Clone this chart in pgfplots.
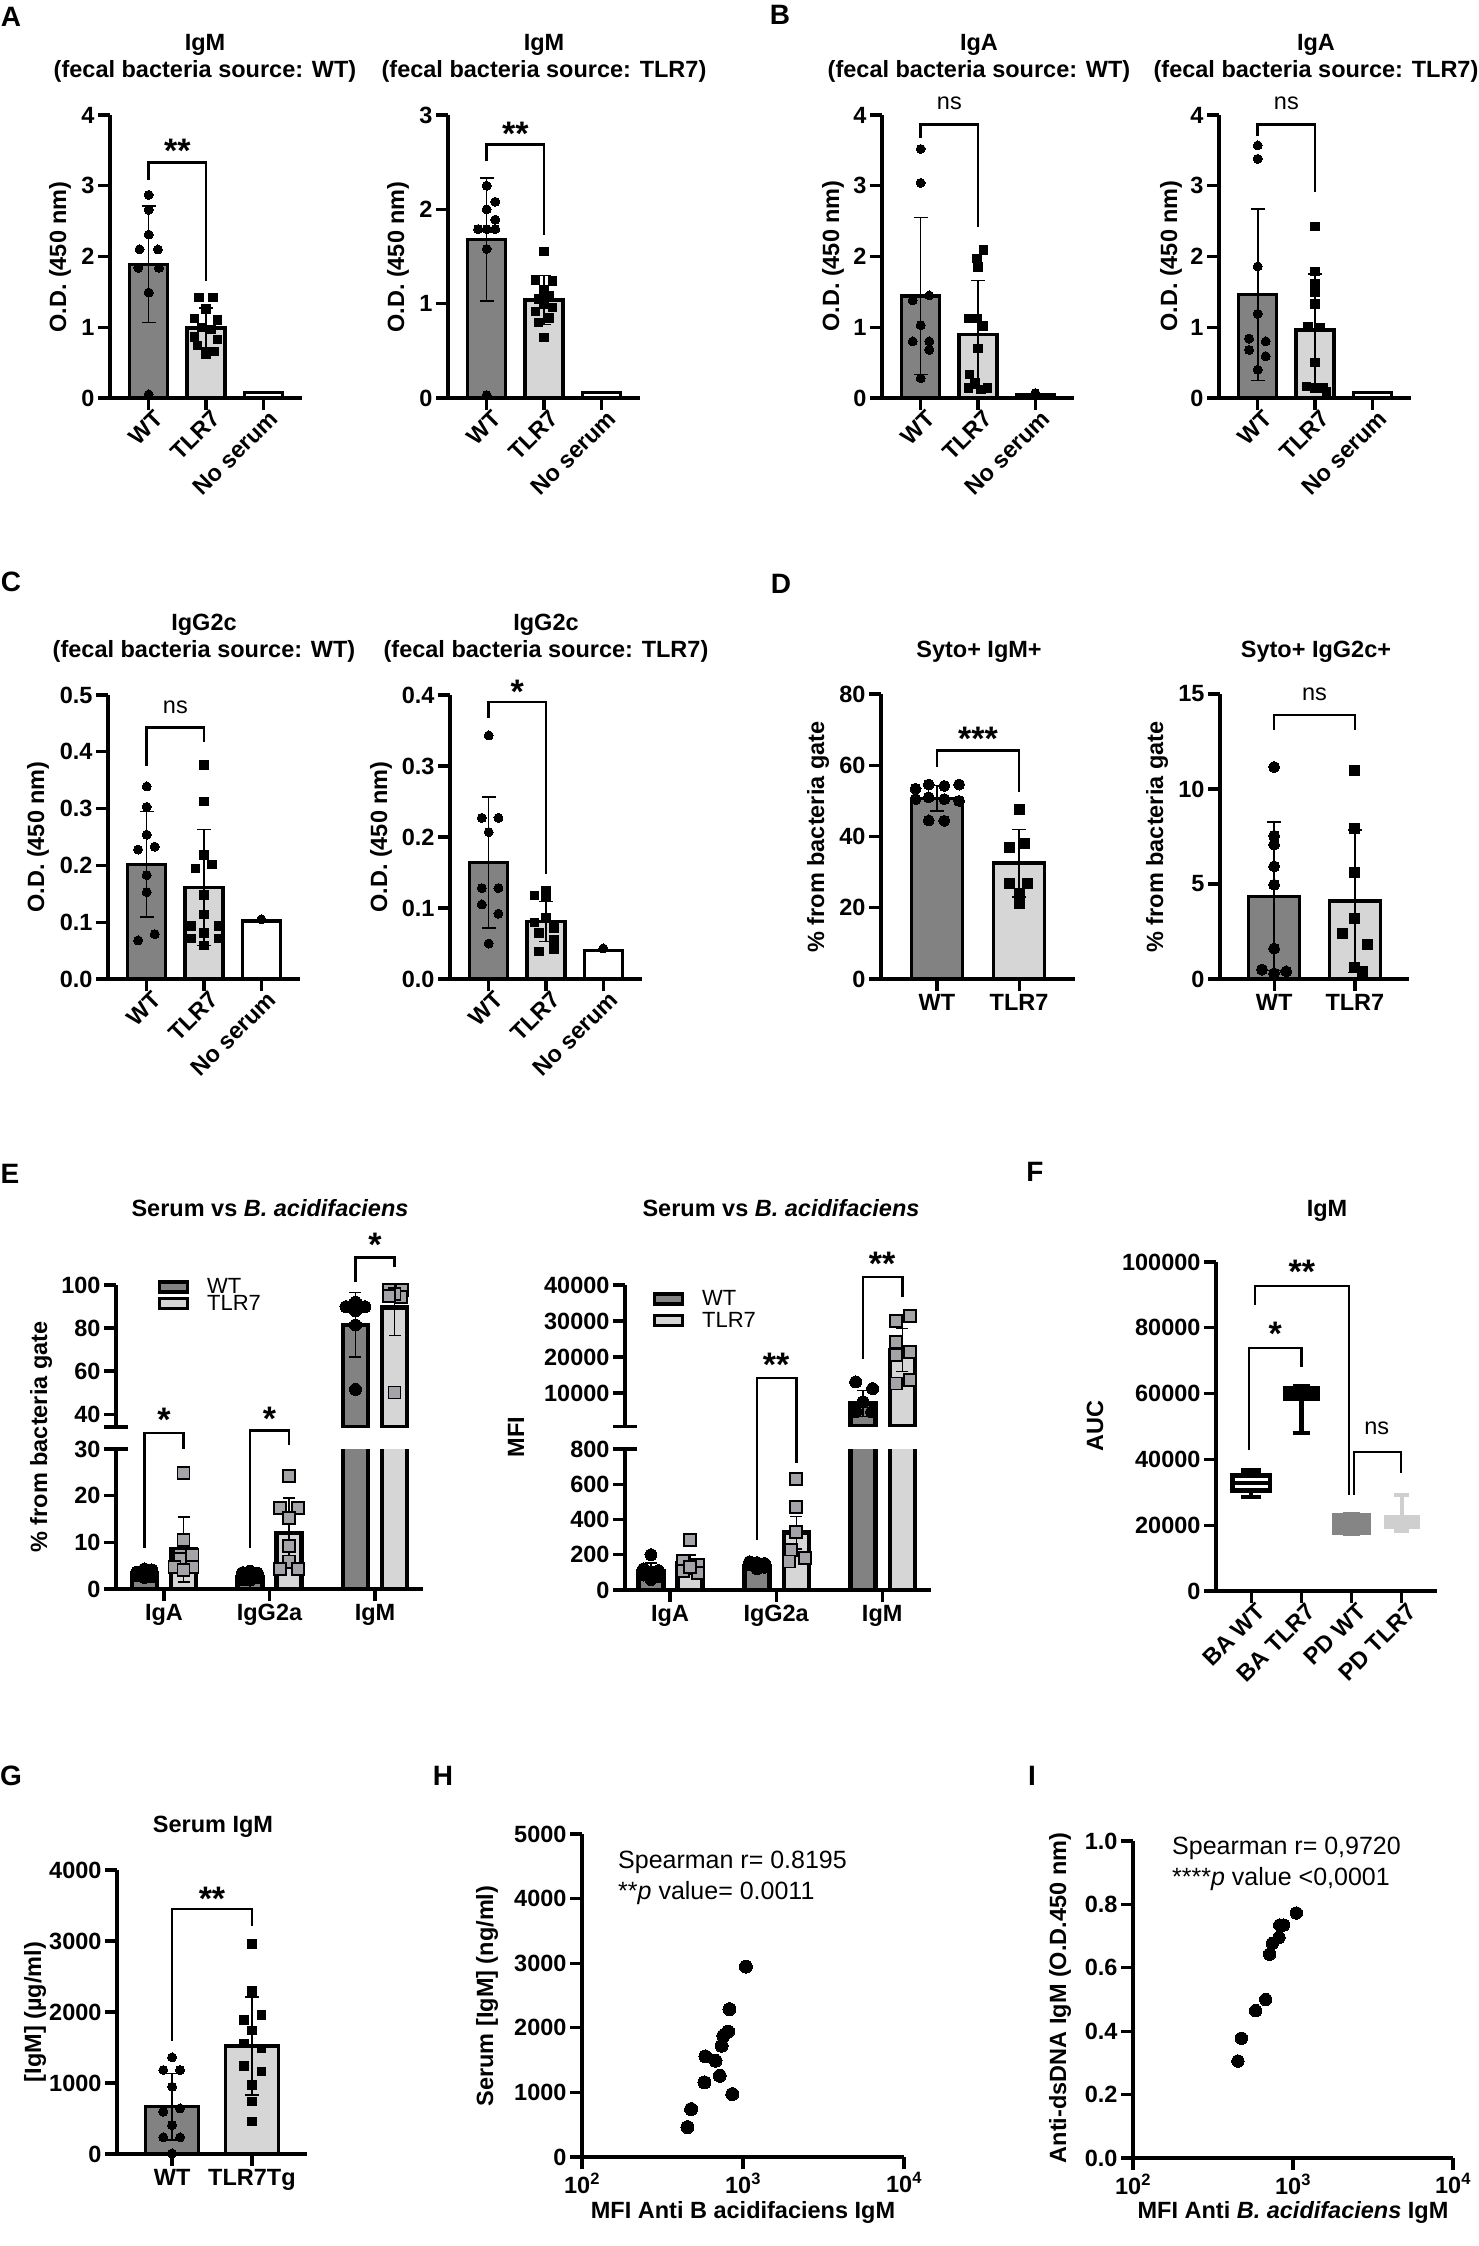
\documentclass[border=0pt]{standalone}
\usepackage{fontspec}
\setmainfont{Liberation Sans}
\usepackage{pgfplots}
\pgfplotsset{compat=1.18}
\usepgfplotslibrary{statistics}
\definecolor{dg}{HTML}{828282}
\definecolor{lg}{HTML}{D6D6D6}
\definecolor{sqg}{HTML}{A4A4A8}
\definecolor{pdw}{HTML}{858585}
\definecolor{pdt}{HTML}{CFCFCF}
\newcommand{\tf}{\fontsize{23.5}{27}\selectfont\bfseries}
\newcommand{\nf}{\fontsize{23.5}{27}\selectfont}
\newcommand{\starf}{\fontsize{34}{34}\selectfont\bfseries}
\newcommand{\plab}{\fontsize{28}{30}\selectfont\bfseries}
\newcommand{\lgf}{\fontsize{22}{24}\selectfont}
\newcommand{\annf}{\fontsize{25}{29}\selectfont}
\pgfplotsset{
  gp/.style={
    scale only axis, anchor=south west, clip=false, enlargelimits=false,
    axis x line=bottom, axis y line=left,
    axis line style={line width=3.2pt,-},
    every outer x axis line/.append style={-}, every outer y axis line/.append style={-},
    every inner x axis line/.append style={-}, every inner y axis line/.append style={-},
    x axis line style={-}, y axis line style={-},
    tick style={line width=3.2pt, black},
    major tick length=12pt,
    tick align=outside,
    tick label style={font=\tf},
    scaled ticks=false,
    yticklabel style={/pgf/number format/.cd, fixed, 1000 sep={}, assume math mode=true},
  },
  ov/.style={scale only axis, anchor=south west, hide axis, clip=false, enlargelimits=false},
  rot/.style={xticklabel style={rotate=45, anchor=north east, inner sep=1pt, xshift=5pt, yshift=-1pt}},
  dot/.style={only marks, mark=*, mark size=#1, mark options={fill=black, draw=black, line width=0pt}},
  dot/.default=4.5pt,
  sqr/.style={only marks, mark=square*, mark size=#1, mark options={fill=black, draw=black, line width=0pt}},
  sqr/.default=4.2pt,
  esq/.style={only marks, mark=square*, mark size=6pt, mark options={fill=sqg, draw=black, line width=1.8pt}},
  leg/.style={legend cell align=left,
    legend image code/.code={\draw[##1] (0pt,-5pt) rectangle (28pt,5pt);}},
}
\newcommand{\gpbar}[4]{\addplot[ybar, bar width=#4, bar shift=0pt, fill=#3, draw=black, line width=3.5pt, forget plot] coordinates {(#1,#2)};}
\newcommand{\ebar}[3]{\addplot[ybar, bar width=25pt, bar shift=0pt, fill=#3, draw=black, line width=4.5pt, forget plot] coordinates {(#1,#2)};}
\newcommand{\gperr}[4][7pt]{\addplot[draw=none, forget plot, error bars/.cd, y dir=both, y explicit, error bar style={draw=black, line width=1.6pt}, error mark options={draw=black, rotate=90, mark size=#1, line width=1.6pt}] coordinates {(#2,#3) +- (0,#4)};}
\newcommand{\brk}[5]{\draw[line width=2.6pt, line join=miter] (axis cs:#1,#2) -- (axis cs:#1,#5) -- (axis cs:#3,#5) -- (axis cs:#3,#4);}
\newcommand{\stars}[3]{\node[font=\starf, inner sep=0pt, yshift=-7pt] at (axis cs:#1,#2) {#3};}
\newcommand{\nsl}[2]{\node[font=\nf, inner sep=0pt] at (axis cs:#1,#2) {ns};}
\begin{document}
\begin{tikzpicture}
\path[use as bounding box] (0pt,0pt) rectangle (1478pt,-2246pt);

% ================= A left
\begin{axis}[gp, rot, at={(110pt,-398pt)}, width=192pt, height=283pt, xmin=-0.675, xmax=2.675, ymin=0, ymax=4, ytick={0,1,2,3,4}, xtick={0,1,2}, xticklabels={WT,TLR7,No serum}]
\gpbar{0}{1.89}{dg}{38pt}
\gpbar{1}{0.99}{lg}{38pt}
\gpbar{2}{0.08}{white}{38pt}
\addplot[dot] coordinates {(0,2.87)(0,2.66)(0,2.31)(-0.16,2.10)(0.16,2.10)(-0.18,1.84)(0.18,1.84)(0,1.49)(0,0.05)};
\addplot[sqr] coordinates {(0.88,1.42)(1.12,1.42)(1,1.26)(0.8,1.12)(1.2,1.10)(0.92,1.00)(1.1,0.97)(0.8,0.86)(1.2,0.83)(0.85,0.74)(1.15,0.66)(1,0.62)};
\gperr{0}{1.89}{0.82}
\gperr{1}{0.99}{0.28}
\brk{0}{3.08}{1}{1.65}{3.33}
\stars{0.5}{3.59}{**}
\end{axis}

% ================= A right
\begin{axis}[gp, rot, at={(448pt,-398pt)}, width=192pt, height=283pt, xmin=-0.675, xmax=2.675, ymin=0, ymax=3, ytick={0,1,2,3}, xtick={0,1,2}, xticklabels={WT,TLR7,No serum}]
\gpbar{0}{1.68}{dg}{38pt}
\gpbar{1}{1.04}{lg}{38pt}
\gpbar{2}{0.06}{white}{38pt}
\addplot[dot] coordinates {(0,2.25)(0.15,2.08)(0,2.00)(0.15,1.89)(-0.15,1.79)(0,1.79)(0.15,1.79)(0,1.58)(0,0.03)};
\addplot[sqr] coordinates {(1,1.55)(0.85,1.25)(1.15,1.24)(1,1.15)(1.1,1.08)(0.9,1.05)(1,0.99)(1.15,0.96)(0.85,0.92)(1.1,0.85)(0.9,0.80)(1,0.64)};
\gperr{0}{1.68}{0.65}
\gperr{1}{1.04}{0.26}
\brk{0}{2.51}{1}{1.73}{2.69}
\stars{0.5}{2.88}{**}
\end{axis}

% ================= B left
\begin{axis}[gp, rot, at={(882pt,-398pt)}, width=192pt, height=283pt, xmin=-0.675, xmax=2.675, ymin=0, ymax=4, ytick={0,1,2,3,4}, xtick={0,1,2}, xticklabels={WT,TLR7,No serum}]
\gpbar{0}{1.44}{dg}{38pt}
\gpbar{1}{0.90}{lg}{38pt}
\gpbar{2}{0.04}{white}{38pt}
\addplot[dot] coordinates {(0,3.52)(0,3.04)(0.15,1.45)(-0.14,1.38)(0,1.03)(-0.14,0.80)(0.15,0.80)(0.15,0.68)(0,0.28)(2,0.07)};
\addplot[sqr] coordinates {(1.1,2.09)(0.98,1.97)(1.0,1.85)(0.83,1.12)(0.98,1.12)(1.1,1.02)(1.0,0.70)(0.85,0.33)(0.95,0.21)(0.83,0.14)(1.17,0.14)(1.05,0.12)};
\gperr{0}{1.44}{1.11}
\gperr{1}{0.90}{0.76}
\brk{0}{3.68}{1}{2.42}{3.87}
\nsl{0.5}{4.16}
\end{axis}

% ================= B right
\begin{axis}[gp, rot, at={(1219pt,-398pt)}, width=192pt, height=283pt, xmin=-0.675, xmax=2.675, ymin=0, ymax=4, ytick={0,1,2,3,4}, xtick={0,1,2}, xticklabels={WT,TLR7,No serum}]
\gpbar{0}{1.46}{dg}{38pt}
\gpbar{1}{0.96}{lg}{38pt}
\gpbar{2}{0.08}{white}{38pt}
\addplot[dot] coordinates {(0,3.57)(0,3.38)(0,1.86)(0,1.19)(-0.15,0.84)(0.14,0.80)(-0.15,0.68)(0.14,0.59)(0,0.40)};
\addplot[sqr] coordinates {(1,2.42)(1,1.79)(1,1.61)(1,1.50)(1,1.33)(0.88,1.01)(1.1,1.00)(1,0.50)(0.85,0.16)(1.0,0.14)(1.15,0.14)(1.2,0.09)};
\gperr{0}{1.46}{1.21}
\gperr{1}{0.96}{0.79}
\brk{0}{3.70}{1}{2.91}{3.87}
\nsl{0.5}{4.16}
\end{axis}

% ================= C left
\begin{axis}[gp, rot, at={(108pt,-979pt)}, width=192pt, height=284pt, xmin=-0.675, xmax=2.675, ymin=0, ymax=0.5, ytick={0,0.1,0.2,0.3,0.4,0.5}, yticklabel style={/pgf/number format/.cd, fixed zerofill, precision=1}, xtick={0,1,2}, xticklabels={WT,TLR7,No serum}]
\gpbar{0}{0.202}{dg}{38pt}
\gpbar{1}{0.161}{lg}{38pt}
\gpbar{2}{0.102}{white}{38pt}
\addplot[dot] coordinates {(0,0.339)(0,0.303)(0,0.254)(0.14,0.233)(-0.15,0.228)(0,0.183)(0,0.153)(0.14,0.079)(-0.15,0.068)(2,0.105)};
\addplot[sqr] coordinates {(1,0.377)(1,0.312)(1,0.218)(1.14,0.202)(0.85,0.195)(1,0.148)(1,0.114)(0.77,0.093)(1.25,0.093)(1,0.081)(0.77,0.071)(1.25,0.071)(1,0.059)};
\gperr{0}{0.202}{0.093}
\gperr{1}{0.161}{0.102}
\brk{0}{0.375}{1}{0.418}{0.443}
\nsl{0.5}{0.478}
\end{axis}

% ================= C right
\begin{axis}[gp, rot, at={(450pt,-979pt)}, width=192pt, height=284pt, xmin=-0.675, xmax=2.675, ymin=0, ymax=0.4, ytick={0,0.1,0.2,0.3,0.4}, yticklabel style={/pgf/number format/.cd, fixed zerofill, precision=1}, xtick={0,1,2}, xticklabels={WT,TLR7,No serum}]
\gpbar{0}{0.164}{dg}{38pt}
\gpbar{1}{0.081}{lg}{38pt}
\gpbar{2}{0.040}{white}{38pt}
\addplot[dot] coordinates {(0,0.343)(-0.12,0.227)(0.17,0.227)(0,0.207)(-0.12,0.128)(0.17,0.128)(-0.12,0.105)(0.17,0.092)(0,0.050)(2,0.043)};
\addplot[sqr] coordinates {(0.8,0.118)(1,0.124)(1,0.116)(1,0.087)(0.8,0.080)(1.14,0.072)(0.88,0.065)(1.14,0.056)(0.88,0.039)(1.14,0.042)};
\gperr{0}{0.164}{0.092}
\gperr{1}{0.081}{0.028}
\brk{0}{0.367}{1}{0.148}{0.390}
\stars{0.5}{0.415}{*}
\end{axis}

% ================= D left
\begin{axis}[gp, at={(881pt,-979pt)}, width=194pt, height=285pt, xmin=-0.68, xmax=1.68, ymin=0, ymax=80, ytick={0,20,40,60,80}, xtick={0,1}, xticklabels={WT,TLR7}]
\gpbar{0}{50.7}{dg}{51pt}
\gpbar{1}{32.5}{lg}{51pt}
\addplot[dot=5.5pt] coordinates {(-0.26,53.4)(-0.1,54.6)(0.09,54.2)(0.27,54.6)(-0.26,50.5)(-0.1,51.0)(0.09,50.5)(0.27,50.0)(-0.1,44.5)(0.09,44.4)};
\addplot[sqr=5pt] coordinates {(1,47.7)(1.07,38.1)(0.88,36.9)(0.88,26.9)(1.1,26.9)(1,23.9)(1,21.3)};
\gperr{0}{50.7}{3.6}
\gperr{1}{32.5}{9.5}
\brk{0}{59.5}{1}{52.4}{64.2}
\stars{0.5}{69.5}{***}
\end{axis}

% ================= D right
\begin{axis}[gp, at={(1220pt,-979pt)}, width=189pt, height=285pt, xmin=-0.67, xmax=1.67, ymin=0, ymax=15, ytick={0,5,10,15}, xtick={0,1}, xticklabels={WT,TLR7}]
\gpbar{0}{4.35}{dg}{51pt}
\gpbar{1}{4.1}{lg}{51pt}
\addplot[dot=5.5pt] coordinates {(0,11.16)(0,7.54)(0,7.07)(0,5.93)(0,4.96)(0,1.6)(-0.15,0.5)(0.15,0.4)(0,0.3)};
\addplot[sqr=5pt] coordinates {(1,11.0)(1,7.9)(1,5.6)(1,3.2)(0.85,2.4)(1.15,1.8)(1,0.6)(1.1,0.4)};
\gperr{0}{4.35}{3.9}
\gperr{1}{4.1}{3.75}
\brk{0}{13.1}{1}{13.1}{13.9}
\nsl{0.5}{15.0}
\end{axis}

% ================= E left lower
\begin{axis}[gp, at={(116pt,-1589pt)}, width=307pt, height=140pt, xmin=-0.455, xmax=2.455, ymin=0, ymax=30, ytick={0,10,20,30}, xtick={0,1,2}, xticklabels={IgA,IgG2a,IgM}, clip=true]
\ebar{-0.185}{3.3}{dg}
\ebar{0.185}{8.5}{lg}
\ebar{0.815}{2.6}{dg}
\ebar{1.185}{12.0}{lg}
\ebar{1.815}{81.5}{dg}
\ebar{2.185}{89.5}{lg}
\addplot[dot=6pt] coordinates {(-0.255,3.6)(-0.185,4.3)(-0.115,3.9)(-0.255,2.9)(-0.185,3.3)(-0.115,2.6)(-0.185,2.5)(-0.115,4.1)(0.745,3.5)(0.815,3.8)(0.885,3.4)(0.745,2.6)(0.815,2.8)(0.885,2.5)(0.815,1.9)(0.745,2.0)};
\addplot[esq] coordinates {(0.185,24.8)(0.185,10.5)(0.155,7.3)(0.27,7.3)(0.155,6.4)(0.1,4.8)(0.27,4.8)(0.185,4.1)(1.185,24.2)(1.10,17.3)(1.27,17.3)(1.185,15.2)(1.185,9.3)(1.185,5.9)(1.10,4.3)(1.27,4.3)};
\gperr[6pt]{-0.185}{3.3}{0.6}
\gperr[6pt]{0.185}{8.5}{6.95}
\gperr[6pt]{0.815}{2.6}{0.6}
\gperr[6pt]{1.185}{12.0}{7.5}
\end{axis}
% E left upper
\begin{axis}[gp, leg, at={(116pt,-1427pt)}, width=307pt, height=142pt, xmin=-0.455, xmax=2.455, ymin=34, ymax=100, ytick={40,60,80,100}, axis x line=none, xtick=\empty, clip=true,
  legend style={at={(0.125,1.075)}, anchor=north west, draw=none, fill=none, font=\lgf, row sep=-4pt, nodes={inner sep=2pt}, /tikz/every odd column/.append style={column sep=16pt}}]
\addlegendimage{fill=dg, draw=black, line width=3.5pt}
\addlegendentry{WT}
\addlegendimage{fill=lg, draw=black, line width=3.5pt}
\addlegendentry{TLR7}
\ebar{1.815}{81.5}{dg}
\ebar{2.185}{89.5}{lg}
\addplot[dot=6pt] coordinates {(1.725,89.9)(1.815,92.0)(1.905,89.9)(1.815,88.0)(1.815,81.4)(1.815,51.5)};
\addplot[esq] coordinates {(2.135,97.7)(2.255,97.7)(2.245,94.6)(2.185,96.0)(2.13,95.0)(2.185,50.0)};
\gperr[6pt]{1.815}{81.5}{15}
\gperr[6pt]{2.185}{89.5}{13}
\end{axis}
% E left overlay (lower-axis units)
\begin{axis}[ov, at={(116pt,-1589pt)}, width=307pt, height=140pt, xmin=-0.455, xmax=2.455, ymin=0, ymax=30]
\draw[line width=3.2pt] (axis cs:-0.455,30) ++(-12pt,0pt) -- ++(24pt,0pt);
\draw[line width=3.2pt] (axis cs:-0.455,34.7) ++(-12pt,0pt) -- ++(24pt,0pt);
\brk{-0.185}{8.8}{0.185}{30}{33.4}
\stars{0}{37.7}{*}
\brk{0.815}{8.8}{1.185}{30.8}{34}
\stars{1}{37.9}{*}
\brk{1.815}{65.8}{2.185}{69.0}{71.1}
\stars{2}{75.2}{*}
\end{axis}

% ================= E right lower
\begin{axis}[gp, at={(625pt,-1590pt)}, width=306pt, height=141pt, xmin=-0.425, xmax=2.46, ymin=0, ymax=800, ytick={0,200,400,600,800}, xtick={0,1,2}, xticklabels={IgA,IgG2a,IgM}, clip=true]
\ebar{-0.18}{105}{dg}
\ebar{0.19}{150}{lg}
\ebar{0.82}{135}{dg}
\ebar{1.19}{325}{lg}
\ebar{1.82}{7100}{dg}
\ebar{2.19}{21950}{lg}
\addplot[dot=6pt] coordinates {(-0.18,200)(-0.25,120)(-0.11,110)(-0.18,100)(-0.25,85)(-0.11,75)(-0.18,60)(0.75,160)(0.82,155)(0.89,150)(0.75,145)(0.82,140)(0.89,130)(0.82,120)};
\addplot[esq] coordinates {(0.19,285)(0.12,165)(0.26,140)(0.19,125)(0.12,110)(0.26,95)(0.19,130)(1.19,629)(1.19,472)(1.19,328)(1.14,229)(1.27,181)(1.12,162)};
\gperr[6pt]{-0.18}{105}{50}
\gperr[6pt]{0.19}{150}{50}
\gperr[6pt]{0.82}{135}{15}
\gperr[6pt]{1.19}{325}{93}
\end{axis}
% E right upper
\begin{axis}[gp, leg, at={(625pt,-1426pt)}, width=306pt, height=141pt, xmin=-0.425, xmax=2.46, ymin=800, ymax=40000, ytick={10000,20000,30000,40000}, axis x line=none, xtick=\empty, clip=true,
  legend style={at={(0.08,0.99)}, anchor=north west, draw=none, fill=none, font=\lgf, row sep=1pt, nodes={inner sep=2pt}, /tikz/every odd column/.append style={column sep=16pt}}]
\addlegendimage{fill=dg, draw=black, line width=3.5pt}
\addlegendentry{WT}
\addlegendimage{fill=lg, draw=black, line width=3.5pt}
\addlegendentry{TLR7}
\ebar{1.82}{7100}{dg}
\ebar{2.19}{21950}{lg}
\addplot[dot=6pt] coordinates {(1.75,13060)(1.91,11200)(1.82,7500)(1.75,4700)(1.9,4700)};
\addplot[esq] coordinates {(2.26,31450)(2.13,30000)(2.13,24200)(2.26,21400)(2.13,20500)(2.26,13500)(2.13,12600)};
\gperr[6pt]{1.82}{7100}{3600}
\gperr[6pt]{2.19}{21950}{6000}
\end{axis}
% E right overlay (lower-axis units)
\begin{axis}[ov, at={(625pt,-1590pt)}, width=306pt, height=141pt, xmin=-0.425, xmax=2.46, ymin=0, ymax=800]
\draw[line width=3.2pt] (axis cs:-0.425,800) ++(-12pt,0pt) -- ++(24pt,0pt);
\draw[line width=3.2pt] (axis cs:-0.425,928) ++(-12pt,0pt) -- ++(24pt,0pt);
\brk{0.82}{284}{1.19}{720}{1203}
\stars{1}{1316}{**}
\brk{1.82}{1311}{2.19}{1662}{1776}
\stars{2}{1889}{**}
\end{axis}

% ================= F (values in thousands)
\begin{axis}[gp, rot, at={(1216pt,-1591pt)}, width=221pt, height=329pt, xmin=-0.7, xmax=3.7, ymin=0, ymax=100, ytick={0,20,40,60,80,100}, yticklabels={0,20000,40000,60000,80000,100000}, xtick={0,1,2,3}, xticklabels={BA WT,BA TLR7,PD WT,PD TLR7}, boxplot/draw direction=y]
\addplot[draw=black, fill=white, line width=4.5pt, boxplot prepared={draw position=0, median=32.9, upper quartile=35.1, lower quartile=30.5, upper whisker=36.7, lower whisker=28.6, box extend=0.75, whisker extend=0.4}] coordinates {};
\addplot[draw=black, fill=black, line width=4.5pt, boxplot prepared={draw position=1, median=60.5, upper quartile=61.6, lower quartile=58.5, upper whisker=62.1, lower whisker=48.0, box extend=0.66, whisker extend=0.35}] coordinates {};
\addplot[draw=pdw, fill=pdw, line width=4.5pt, boxplot prepared={draw position=2, median=20.7, upper quartile=22.9, lower quartile=17.65, upper whisker=23.4, lower whisker=17.4, box extend=0.68, whisker extend=0.35}] coordinates {};
\addplot[draw=pdt, fill=pdt, line width=4.5pt, boxplot prepared={draw position=3, median=20.9, upper quartile=22.3, lower quartile=19.6, upper whisker=29.2, lower whisker=18.3, box extend=0.64, whisker extend=0.3}] coordinates {};
\brk{-0.04}{42.86}{1}{68.1}{73.86}
\stars{0.48}{80.24}{*}
\brk{0.08}{86.9}{1.95}{29.2}{92.7}
\stars{1.01}{99.1}{**}
\brk{2.05}{29.2}{2.98}{35.87}{42.25}
\nsl{2.5}{49.54}
\end{axis}

% ================= G
\begin{axis}[gp, at={(117pt,-2154pt)}, width=190pt, height=284pt, xmin=-0.69, xmax=1.69, ymin=0, ymax=4000, ytick={0,1000,2000,3000,4000}, xtick={0,1}, xticklabels={WT,TLR7Tg}]
\gpbar{0}{667}{dg}{53pt}
\gpbar{1}{1521}{lg}{53pt}
\addplot[dot=4.5pt] coordinates {(0,1362)(-0.11,1183)(0.1,1183)(0,948)(0.1,643)(-0.11,596)(0,408)(-0.11,235)(0.1,235)(0,9)};
\addplot[sqr=4.2pt] coordinates {(1,2958)(1,2296)(1.12,1958)(0.9,1887)(1,1737)(0.9,1559)(1.12,1488)(0.9,1239)(1.12,1160)(1,972)(1,737)(1,455)};
\gperr{0}{667}{470}
\gperr{1}{1521}{692}
\brk{0}{1591}{1}{3211}{3451}
\stars{0.5}{3700}{**}
\end{axis}

% ================= H
\begin{axis}[gp, at={(582pt,-2157pt)}, width=322pt, height=323pt, xmode=log, log basis x=10, xmin=100, xmax=10000, xminorticks=false, xtick={100,1000,10000}, xticklabels={10\textsuperscript{2},10\textsuperscript{3},10\textsuperscript{4}}, ymin=0, ymax=5000, ytick={0,1000,2000,3000,4000,5000}]
\addplot[dot=6.5pt] coordinates {(1042,2948)(824,2289)(807,1943)(755,1876)(736,1722)(584,1557)(675,1490)(717,1258)(576,1155)(858,974)(476,742)(452,464)};
\end{axis}

% ================= I
\begin{axis}[gp, at={(1133pt,-2158pt)}, width=320pt, height=317pt, xmode=log, log basis x=10, xmin=100, xmax=10000, xminorticks=false, xtick={100,1000,10000}, xticklabels={10\textsuperscript{2},10\textsuperscript{3},10\textsuperscript{4}}, ymin=0, ymax=1, ytick={0,0.2,0.4,0.6,0.8,1.0}, yticklabel style={/pgf/number format/.cd, fixed zerofill, precision=1}]
\addplot[dot=6.2pt] coordinates {(1049,0.773)(826,0.735)(874,0.735)(817,0.696)(743,0.677)(714,0.643)(675,0.500)(584,0.465)(476,0.378)(453,0.306)};
\end{axis}

% ================= texts
\begin{scope}[every node/.style={font=\tf, inner sep=0pt}]
\node at (205pt,-45pt) {IgM};
\node at (205pt,-71pt) {(fecal bacteria source: WT)};
\node at (544pt,-45pt) {IgM};
\node at (544pt,-71pt) {(fecal bacteria source: TLR7)};
\node at (979pt,-45pt) {IgA};
\node at (979pt,-71pt) {(fecal bacteria source: WT)};
\node at (1316pt,-45pt) {IgA};
\node at (1316pt,-71pt) {(fecal bacteria source: TLR7)};
\node at (204pt,-625pt) {IgG2c};
\node at (204pt,-651pt) {(fecal bacteria source: WT)};
\node at (546pt,-625pt) {IgG2c};
\node at (546pt,-651pt) {(fecal bacteria source: TLR7)};
\node at (979pt,-652pt) {Syto+ IgM+};
\node at (1316pt,-652pt) {Syto+ IgG2c+};
\node at (270pt,-1208pt) {Serum vs \textit{B. acidifaciens}};
\node at (781pt,-1208pt) {Serum vs \textit{B. acidifaciens}};
\node at (1327pt,-1211pt) {IgM};
\node at (213pt,-1827pt) {Serum IgM};
% y labels
\node[rotate=90] at (60pt,-257pt) {O.D. (450 nm)};
\node[rotate=90] at (398pt,-257pt) {O.D. (450 nm)};
\node[rotate=90] at (833pt,-256pt) {O.D. (450 nm)};
\node[rotate=90] at (1171pt,-256pt) {O.D. (450 nm)};
\node[rotate=90] at (38pt,-837pt) {O.D. (450 nm)};
\node[rotate=90] at (381pt,-837pt) {O.D. (450 nm)};
\node[rotate=90] at (818pt,-837pt) {\% from bacteria gate};
\node[rotate=90] at (1157pt,-837pt) {\% from bacteria gate};
\node[rotate=90] at (41pt,-1437pt) {\% from bacteria gate};
\node[rotate=90] at (516pt,-1437pt) {MFI};
\node[rotate=90] at (1095pt,-1426pt) {AUC};
\node[rotate=90] at (35pt,-2012pt) {[IgM] (µg/ml)};
\node[rotate=90] at (487pt,-1996pt) {Serum [IgM] (ng/ml)};
\node[rotate=90] at (1060pt,-1998pt) {Anti-dsDNA IgM (O.D.450 nm)};
% x labels
\node at (743pt,-2212pt) {MFI Anti B acidifaciens IgM};
\node at (1293pt,-2212pt) {MFI Anti \textit{B. acidifaciens} IgM};
\end{scope}
\begin{scope}[every node/.style={font=\annf, inner sep=0pt, anchor=west}]
\node at (618pt,-1862pt) {Spearman r= 0.8195};
\node at (618pt,-1893pt) {**\textit{p} value= 0.0011};
\node at (1172pt,-1848pt) {Spearman r= 0,9720};
\node at (1172pt,-1879pt) {****\textit{p} value <0,0001};
\end{scope}
\begin{scope}[every node/.style={font=\plab, inner sep=0pt}]
\node at (11pt,-17pt) {A};
\node at (780pt,-15pt) {B};
\node at (11pt,-582pt) {C};
\node at (781pt,-584pt) {D};
\node at (10pt,-1174pt) {E};
\node at (1035pt,-1172pt) {F};
\node at (11pt,-1776pt) {G};
\node at (443pt,-1776pt) {H};
\node at (1032pt,-1776pt) {I};
\end{scope}
\end{tikzpicture}
\end{document}
